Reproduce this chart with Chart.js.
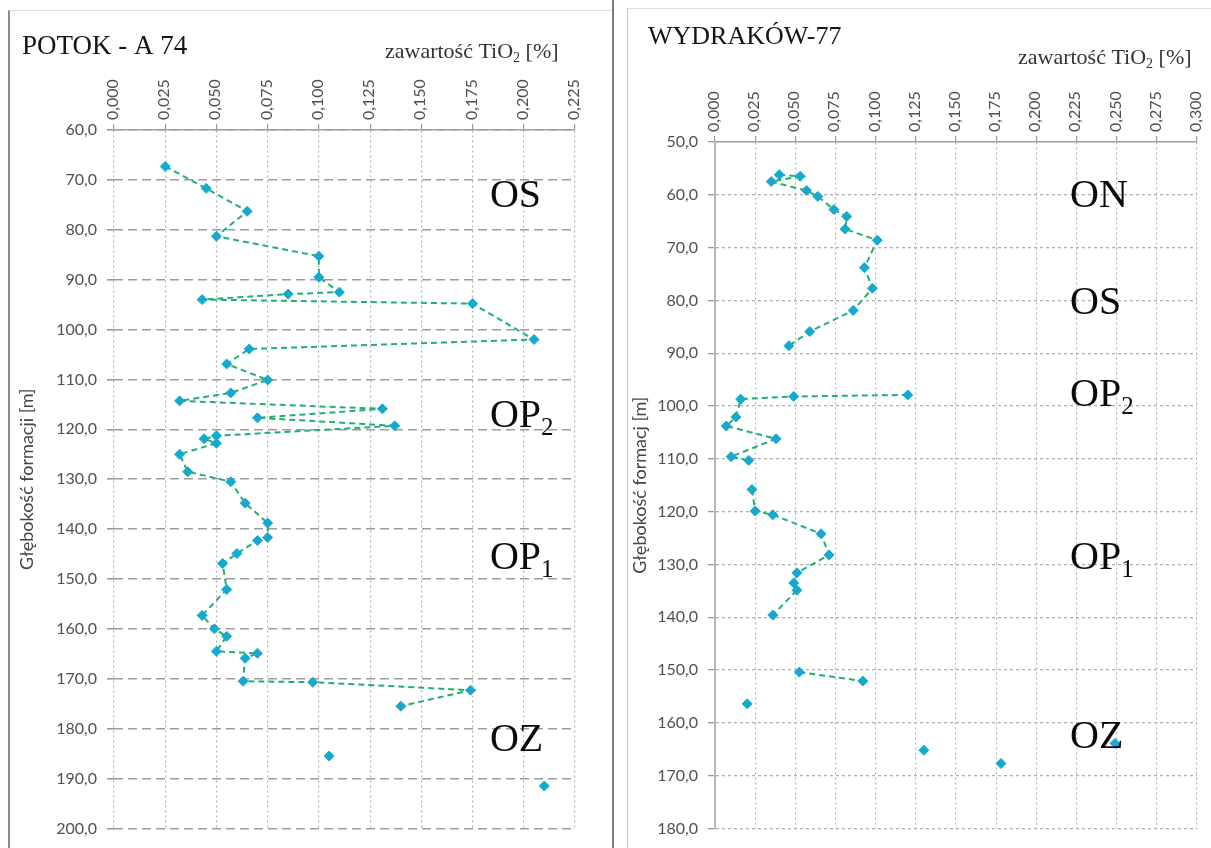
<!DOCTYPE html>
<html lang="pl">
<head>
<meta charset="utf-8">
<title>Zawartość TiO2</title>
<script src="https://cdn.jsdelivr.net/npm/chart.js@4.4.1/dist/chart.umd.min.js"></script>
<style>
    html, body { margin: 0; padding: 0; background: #fff; }
    body { width: 1211px; height: 848px; position: relative; overflow: hidden; }
    canvas { position: absolute; top: 0; }
    #chartA { left: 0; }
    #chartB { left: 614px; }
    .frame { position: absolute; }
    #frameA { left: 8px; top: 10px; width: 604px; height: 838px; border-left: 2px solid #8c8c8c; border-top: 1px solid #dcdcdc; }
    #sep { left: 612px; top: 0; width: 2px; height: 848px; background: #7a7a7a; }
    #frameB { left: 627px; top: 8px; width: 584px; height: 840px; border-left: 1px solid #c4c4c4; border-top: 1px solid #dcdcdc; }
</style>
</head>
<body>
<div class="frame" id="frameA"></div>
<div class="frame" id="sep"></div>
<div class="frame" id="frameB"></div>
<canvas id="chartA" width="612" height="848"></canvas>
<canvas id="chartB" width="597" height="848"></canvas>
<script>
// --- POTOK - A 74 --- (null = break in the line)
const depthA = [67.3, 71.7, 76.3, 81.3, 85.3, 89.5, 92.5, 92.9, 94.0, 94.8,
    102.0, 103.9, 106.9, 110.1, 112.7, 114.3, 115.9, 117.7, 119.3, 121.3,
    121.9, 122.8, 125.0, 128.5, 130.5, 134.8, 138.8, 141.7, 142.3, 144.9,
    146.9, 152.1, 157.3, 160.0, 161.5, 164.5, 164.9, 165.9, 170.5, 170.7,
    172.3, 175.5, null, 185.5, null, 191.5];
const tioA = [0.025, 0.045, 0.065, 0.050, 0.100, 0.100, 0.110, 0.085, 0.043, 0.175,
    0.205, 0.066, 0.055, 0.075, 0.057, 0.032, 0.131, 0.070, 0.137, 0.050,
    0.044, 0.050, 0.032, 0.036, 0.057, 0.064, 0.075, 0.075, 0.070, 0.060,
    0.053, 0.055, 0.043, 0.049, 0.055, 0.050, 0.070, 0.064, 0.063, 0.097,
    0.174, 0.140, null, 0.105, null, 0.210];
const zoneNamesA = ['OS', 'OP', 'OP', 'OZ'];
const zoneSubA = ['', '2', '1', ''];
const zoneDepthA = [75.4, 119.6, 148.0, 184.4];

// --- WYDRAKÓW-77 ---
const depthB = [56.2, 56.5, 57.5, 59.2, 60.3, 62.8, 64.1, 66.5, 68.6, 73.8,
    77.7, 81.9, 85.9, 88.6, null, 97.9, 98.2, 98.7, 102.1, 103.8,
    106.2, 109.6, 110.3, null, 115.8, 119.9, 120.6, 124.2, 128.2, 131.6,
    133.5, 134.9, 139.6, null, 150.4, 152.1, null, 156.4, null, 165.2,
    null, 167.7, null, 163.9];
const tioB = [0.040, 0.053, 0.035, 0.057, 0.064, 0.074, 0.082, 0.081, 0.101, 0.093,
    0.098, 0.086, 0.059, 0.046, null, 0.120, 0.049, 0.016, 0.013, 0.007,
    0.038, 0.010, 0.021, null, 0.023, 0.025, 0.036, 0.066, 0.071, 0.051,
    0.049, 0.051, 0.036, null, 0.0525, 0.092, null, 0.020, null, 0.130,
    null, 0.178, null, 0.249];
const zoneNamesB = ['ON', 'OS', 'OP', 'OP', 'OZ'];
const zoneSubB = ['', '', '2', '1', ''];
const zoneDepthB = [62.3, 82.6, 100.0, 130.8, 164.7];

const LINE_COLOR = '#22b070';
const POINT_COLOR = '#16a9cf';
const TICK_COLOR = '#505050';

// draw text pieces one after another, sub pieces smaller and lower
function drawRich(ctx, parts, x, y, size) {
    parts.forEach(([txt, sub]) => {
        const s = sub ? Math.round(size * 0.62) : size;
        ctx.font = `${s}px "Liberation Serif"`;
        ctx.fillText(txt, x, sub ? y + size * 0.2 : y);
        x += ctx.measureText(txt).width;
    });
}

// titles, axis label and zone names
const panelText = {
    id: 'panelText',
    afterDraw(chart, args, opts) {
        const ctx = chart.ctx;
        const xs = chart.scales.x;
        const ys = chart.scales.y;
        ctx.save();
        ctx.fillStyle = '#151515';
        ctx.textAlign = 'left';
        ctx.textBaseline = 'alphabetic';
        ctx.font = `${opts.titleSize}px "Liberation Serif"`;
        ctx.fillText(opts.title, opts.titleX, opts.titleY);

        ctx.fillStyle = '#333';
        drawRich(ctx, [['zawartość TiO', false], ['2', true], [' [%]', false]], opts.labelX, opts.labelY, 22);

        ctx.fillStyle = '#0a0a0a';
        const zx = xs.getPixelForValue(opts.zoneX);
        opts.names.forEach((name, i) => {
            const zy = ys.getPixelForValue(opts.depths[i]);
            const parts = [[name, false]];
            if (opts.subs[i]) parts.push([opts.subs[i], true]);
            drawRich(ctx, parts, zx, zy, 40);
        });
        ctx.restore();
    }
};

function makePoints(depths, values) {
    return depths.map((d, i) => ({ x: values[i], y: d }));
}

function makeChart(canvasId, cfg) {
    const ctx = document.getElementById(canvasId).getContext('2d');
    return new Chart(ctx, {
        type: 'scatter',
        data: {
            datasets: [{
                data: makePoints(cfg.depths, cfg.values),
                showLine: true,
                spanGaps: false,
                borderColor: LINE_COLOR,
                borderWidth: 2,
                borderDash: [6, 4],
                pointStyle: 'rectRot',
                pointRadius: 5,
                pointBackgroundColor: POINT_COLOR,
                pointBorderColor: POINT_COLOR,
                pointBorderWidth: 1
            }]
        },
        options: {
            responsive: false,
            animation: false,
            layout: { padding: cfg.padding },
            plugins: {
                legend: { display: false },
                tooltip: { enabled: false },
                panelText: cfg.text
            },
            scales: {
                x: {
                    type: 'linear',
                    position: 'top',
                    min: 0,
                    max: cfg.xMax,
                    afterFit: s => { s.height = cfg.xHeight; },
                    ticks: {
                        stepSize: 0.025,
                        autoSkip: false,
                        minRotation: 90,
                        maxRotation: 90,
                        padding: 4,
                        labelOffset: 18,
                        color: TICK_COLOR,
                        font: { family: 'Lato', size: 16 },
                        callback: v => v.toFixed(3).replace('.', ',')
                    },
                    grid: {
                        color: '#b4b4b4',
                        lineWidth: 1.2,
                        tickLength: 6,
                        tickColor: '#999'
                    },
                    border: { display: true, color: '#a0a0a0', width: 1.5, dash: [2, 3] }
                },
                y: {
                    type: 'linear',
                    reverse: true,
                    min: cfg.yMin,
                    max: cfg.yMax,
                    afterFit: s => { s.width = cfg.yWidth; },
                    title: {
                        display: true,
                        text: cfg.yTitle,
                        color: '#444',
                        font: { family: 'Lato', size: 18 },
                        padding: { top: cfg.titlePad, bottom: 0 }
                    },
                    ticks: {
                        stepSize: 10,
                        padding: 10,
                        color: TICK_COLOR,
                        font: { family: 'Lato', size: 16 },
                        callback: v => v.toFixed(1).replace('.', ',')
                    },
                    grid: cfg.yGrid,
                    border: cfg.yBorder
                }
            }
        },
        plugins: [panelText]
    });
}

makeChart('chartA', {
    depths: depthA, values: tioA,
    xMax: 0.225, yMin: 60, yMax: 200,
    padding: { left: 8, right: 37, top: 65, bottom: 18 },
    xHeight: 65, yWidth: 106, titlePad: 8,
    yTitle: 'Głębokość formacji [m]',
    yGrid: { color: '#9c9c9c', lineWidth: 1.6, tickLength: 7, tickColor: '#999' },
    yBorder: { display: false, dash: [9, 5] },
    text: {
        title: 'POTOK - A 74', titleSize: 27, titleX: 22, titleY: 54,
        labelX: 385, labelY: 58,
        zoneX: 0.1835, names: zoneNamesA, subs: zoneSubA, depths: zoneDepthA
    }
});

makeChart('chartB', {
    depths: depthB, values: tioB,
    xMax: 0.3, yMin: 50, yMax: 180,
    padding: { left: 10, right: 14, top: 77, bottom: 17 },
    xHeight: 65, yWidth: 91, titlePad: 5,
    yTitle: 'Głębokość formacj [m]',
    yGrid: { color: '#b0b0b0', lineWidth: 1.3, tickLength: 7, tickColor: '#999' },
    yBorder: { display: true, color: '#b4b8bc', width: 2, dash: [3, 3] },
    text: {
        title: 'WYDRAKÓW-77', titleSize: 26, titleX: 34, titleY: 44,
        labelX: 1018 - 614, labelY: 64,
        zoneX: 0.221, names: zoneNamesB, subs: zoneSubB, depths: zoneDepthB
    }
});
</script>
</body>
</html>
